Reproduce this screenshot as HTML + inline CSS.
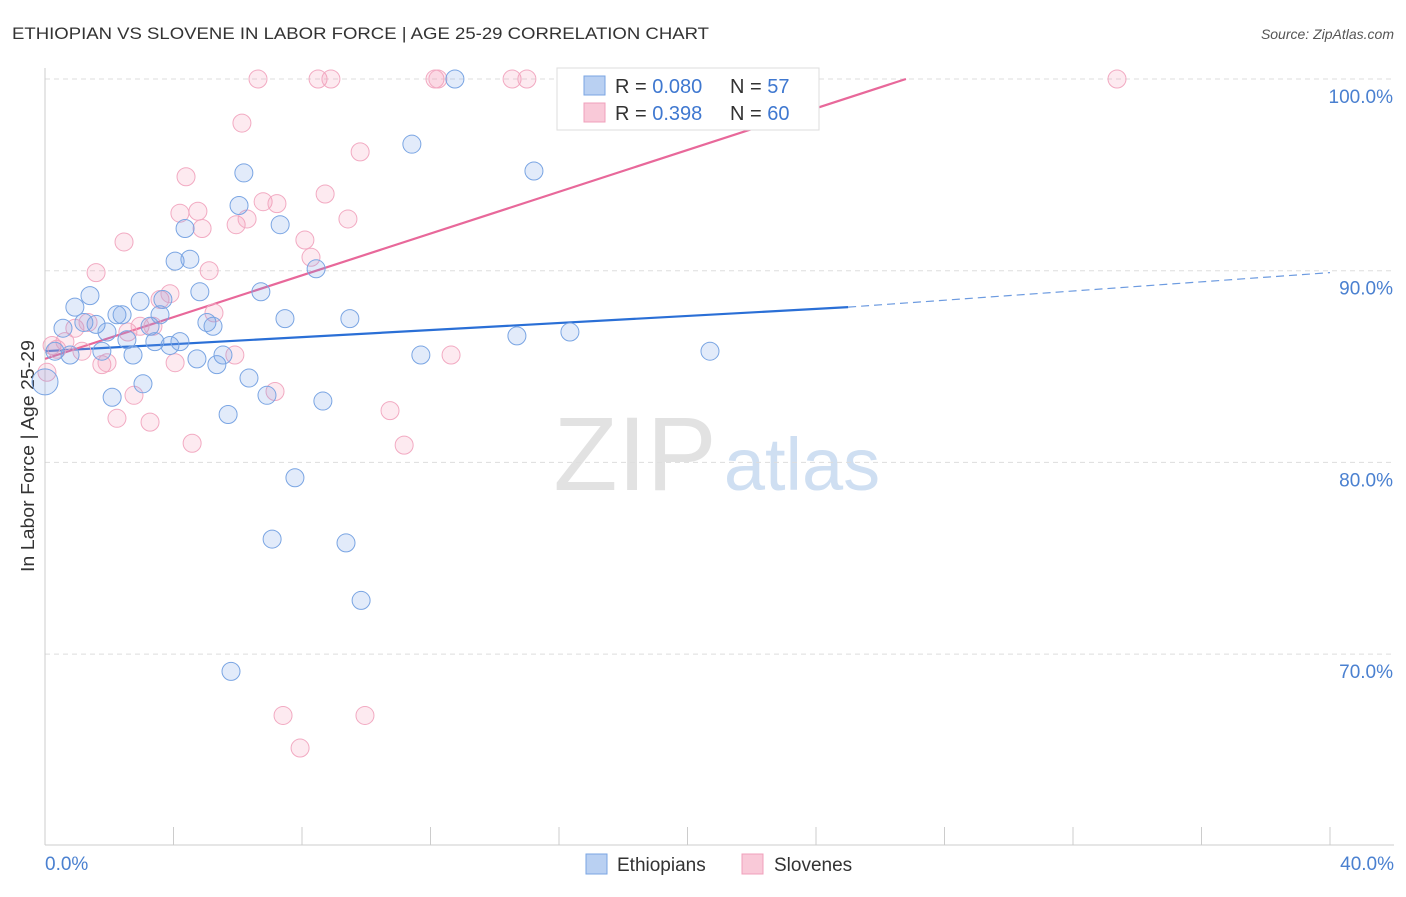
<!DOCTYPE html>
<html><head><meta charset="utf-8"><style>
body{margin:0;background:#fff;font-family:"Liberation Sans",sans-serif;}
svg text{font-family:"Liberation Sans",sans-serif;}
</style></head><body>
<svg id="chart" width="1406" height="892" xmlns="http://www.w3.org/2000/svg">
<text x="12" y="39" font-size="17" fill="#333" textLength="697" lengthAdjust="spacingAndGlyphs">ETHIOPIAN VS SLOVENE IN LABOR FORCE | AGE 25-29 CORRELATION CHART</text>
<text x="1394" y="39" font-size="14" fill="#555" text-anchor="end" font-style="italic">Source: ZipAtlas.com</text>
<text x="34" y="456" font-size="18" fill="#333" text-anchor="middle" textLength="232" lengthAdjust="spacingAndGlyphs" transform="rotate(-90 34 456)">In Labor Force | Age 25-29</text>
<g><text x="635" y="490" font-size="105" fill="#e2e2e2" text-anchor="middle" font-family="Liberation Serif,serif">ZIP</text><text x="802" y="490" font-size="74" fill="#cfdff2" text-anchor="middle">atlas</text></g>
<g id="grid"></g><g id="axes"></g><g id="lines"></g><g id="pts"></g>
<g>
<rect x="557" y="68" width="262" height="62" fill="#fff" stroke="#ddd"/>
<rect x="584" y="76" width="21" height="19" fill="#b9d0f2" stroke="#7aa5e3"/>
<rect x="584" y="103" width="21" height="19" fill="#f9c9d8" stroke="#f0a0bb"/>
<text x="615" y="93" font-size="20" fill="#333">R = <tspan fill="#3f78d0">0.080</tspan></text>
<text x="730" y="93" font-size="20" fill="#333">N = <tspan fill="#3f78d0"> 57</tspan></text>
<text x="615" y="120" font-size="20" fill="#333">R = <tspan fill="#3f78d0"> 0.398</tspan></text>
<text x="730" y="120" font-size="20" fill="#333">N = <tspan fill="#3f78d0">60</tspan></text>
</g>
<g>
<rect x="586" y="854" width="21" height="20" fill="#b9d0f2" stroke="#7aa5e3"/>
<text x="617" y="871" font-size="19" fill="#333">Ethiopians</text>
<rect x="742" y="854" width="21" height="20" fill="#f9c9d8" stroke="#f0a0bb"/>
<text x="774" y="871" font-size="19" fill="#333">Slovenes</text>
</g>
</svg>
<script>
const blueX=[0,0.31,0.56,0.78,0.93,1.21,1.40,1.59,1.77,1.93,2.09,2.24,2.40,2.55,2.74,2.96,3.05,3.27,3.42,3.58,3.67,3.89,4.05,4.20,4.36,4.51,4.73,4.82,5.04,5.23,5.35,5.54,5.70,5.79,6.04,6.19,6.35,6.72,6.91,7.07,7.32,7.47,7.78,8.44,8.65,9.37,9.49,9.84,11.42,11.70,12.76,14.69,15.22,16.34,20.70];
const blueY=[84.2,85.8,87.0,85.6,88.1,87.3,88.7,87.2,85.8,86.8,83.4,87.7,87.7,86.4,85.6,88.4,84.1,87.1,86.3,87.7,88.5,86.1,90.5,86.3,92.2,90.6,85.4,88.9,87.3,87.1,85.1,85.6,82.5,69.1,93.4,95.1,84.4,88.9,83.5,76.0,92.4,87.5,79.2,90.1,83.2,75.8,87.5,72.8,96.6,85.6,100,86.6,95.2,86.8,85.8];
const pinkX=[0.06,0.22,0.37,0.62,0.93,1.15,1.34,1.59,1.77,1.93,2.24,2.46,2.58,2.77,2.96,3.27,3.36,3.58,3.89,4.05,4.20,4.39,4.58,4.76,4.89,5.11,5.26,5.91,5.95,6.13,6.29,6.63,6.79,7.22,7.16,7.41,7.94,8.09,8.28,8.50,8.72,8.90,9.43,9.81,9.96,10.74,11.18,12.14,12.23,12.64,14.54,15.00,21.63,33.37];
const pinkY=[84.7,86.1,85.9,86.3,87.0,85.8,87.3,89.9,85.1,85.2,82.3,91.5,86.8,83.5,87.1,82.1,87.1,88.5,88.8,85.2,93.0,94.9,81.0,93.1,92.2,90.0,87.8,85.6,92.4,97.7,92.7,100,93.6,93.5,83.7,66.8,65.1,91.6,90.7,100,94.0,100,92.7,96.2,66.8,82.7,80.9,100,100,85.6,100,100,100,100];
const blueTrendX=[0,25,40];
const blueTrendY=[85.8,88.1,89.9];
const pinkTrendX=[0,26.8];
const pinkTrendY=[85.4,100];
const yTicks=[100,90,80,70];
const xTicks=[0,4,8,12,16,20,24,28,32,36,40];
const NS="http://www.w3.org/2000/svg";
const sx=v=>45+v*32.125, sy=v=>79+(100-v)*19.17;
function mk(t,a,p){const e=document.createElementNS(NS,t);for(const k in a)e.setAttribute(k,a[k]);document.getElementById(p).appendChild(e);return e;}
yTicks.forEach(v=>{
 const l=mk('line',{x1:45,x2:1394,y1:sy(v),y2:sy(v),stroke:'#ddd','stroke-dasharray':'5,4'},'grid');
 
 
 const t=mk('text',{x:1393,y:sy(v)+24,'font-size':19,fill:'#4a80d0','text-anchor':'end'},'grid');t.textContent=v.toFixed(1)+'%';
 
 
});
const ax=mk('line',{x1:45,x2:1394,y1:845,y2:845,stroke:'#ccc'},'axes');


const ay=mk('line',{x1:45,x2:45,y1:68,y2:845,stroke:'#ccc'},'axes');


xTicks.forEach(v=>{const l=mk('line',{x1:sx(v),x2:sx(v),y1:827,y2:845,stroke:'#ccc'},'axes');
 
 });
[[0,'start',45],[40,'end',1394]].forEach(([v,a,x])=>{const t=mk('text',{x:x,y:870,'font-size':19,fill:'#4a80d0','text-anchor':a},'axes');t.textContent=v.toFixed(1)+'%';
 
 });
function pts(X,Y,f,s,n){X.forEach((x,i)=>{const c=mk('circle',{cx:sx(x),cy:sy(Y[i]),r:(i==0&&n=='ethiopian-point')?13:9,fill:f,stroke:s,'stroke-width':1},'pts');
 
 });}
pts(pinkX,pinkY,'rgba(244,150,180,0.2)','#f2aac2','slovene-point');
pts(blueX,blueY,'rgba(110,155,230,0.2)','#7aa5e3','ethiopian-point');
const b1=mk('line',{x1:sx(blueTrendX[0]),y1:sy(blueTrendY[0]),x2:sx(blueTrendX[1]),y2:sy(blueTrendY[1]),stroke:'#2a6fd6','stroke-width':2.2},'lines');


const b2=mk('line',{x1:sx(blueTrendX[1]),y1:sy(blueTrendY[1]),x2:sx(blueTrendX[2]),y2:sy(blueTrendY[2]),stroke:'#6d9be0','stroke-width':1.2,'stroke-dasharray':'8,5'},'lines');


const p1=mk('line',{x1:sx(pinkTrendX[0]),y1:sy(pinkTrendY[0]),x2:sx(pinkTrendX[1]),y2:sy(pinkTrendY[1]),stroke:'#e8689a','stroke-width':2.2},'lines');


</script>
</body></html>
